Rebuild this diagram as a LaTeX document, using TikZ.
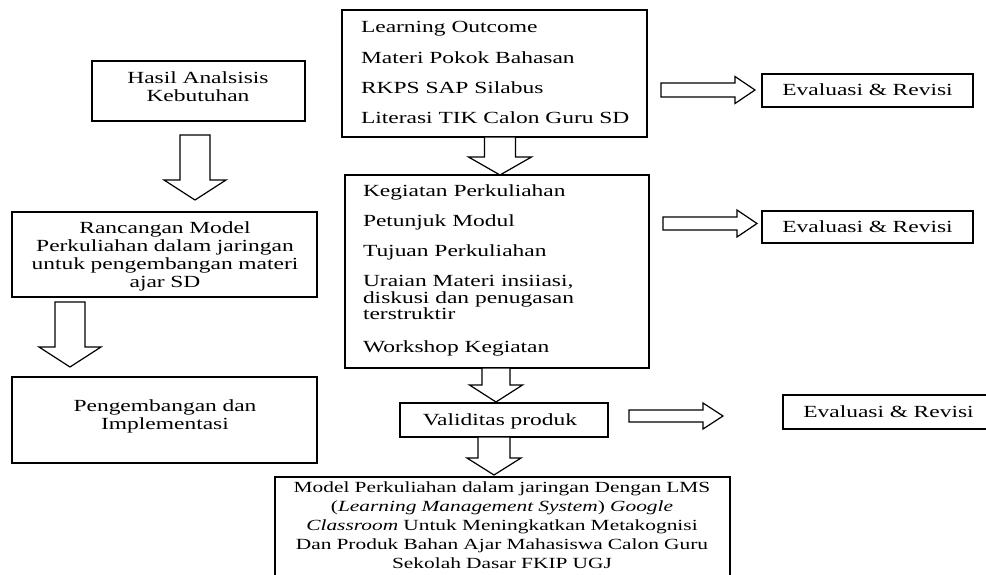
\documentclass[tikz,border=0pt]{standalone}
\usepackage{fontspec}
\setmainfont[FakeStretch=1.38]{Liberation Serif}
\newcommand\bigdownarrow[6]{% cx, shaft half width, top, shaft end, head half width, tip
  \draw[blk] ({#1-#2},#3) -- ({#1-#2},#4) -- ({#1-#5},#4) -- (#1,#6) -- ({#1+#5},#4) -- ({#1+#2},#4) -- ({#1+#2},#3) -- cycle;}
\newcommand\bigrightarrow[6]{% cy, shaft half width, left, shaft end, head half width, tip
  \draw[blk] (#3,{#1-#2}) -- (#4,{#1-#2}) -- (#4,{#1-#5}) -- (#6,#1) -- (#4,{#1+#5}) -- (#4,{#1+#2}) -- (#3,{#1+#2}) -- cycle;}
\begin{document}
\begin{tikzpicture}[x=1pt,y=-1pt,
  box/.style={draw, line width=1.8pt, inner sep=0pt, outer sep=0pt, anchor=north west},
  txt/.style={inner sep=0pt, outer sep=0pt, font=\fontsize{17}{18.2}\selectfont},
  ctxt/.style={txt, text width=320pt, align=center, anchor=base},
  ltxt/.style={txt, anchor=base west},
  btxt/.style={inner sep=0pt, outer sep=0pt, text width=460pt, align=center, anchor=base, font=\fontsize{15.5}{19.1}\selectfont},
  blk/.style={draw, line width=1.2pt, line join=miter, fill=white}]
\useasboundingbox (0,0) rectangle (986,574);
\clip (0,0) rectangle (986,574);

% left column
\node[box, minimum width=213pt, minimum height=60pt] (hasil) at (92,61) {};
\node[ctxt] (hasiltxt) at (198,83) {Hasil Analsisis\\Kebutuhan};
\bigdownarrow{195}{15}{135}{180}{31}{200}

\node[box, minimum width=305pt, minimum height=85pt] (ranc) at (12,212) {};
\node[ctxt] (ranctxt) at (165,233) {Rancangan Model\\Perkuliahan dalam jaringan\\untuk pengembangan materi\\ajar SD};
\bigdownarrow{70}{15}{302}{347}{31}{367}

\node[box, minimum width=305pt, minimum height=86pt] (peng) at (12,377) {};
\node[ctxt] (pengtxt) at (165,411) {Pengembangan dan\\Implementasi};

% middle column
\node[box, minimum width=305pt, minimum height=127pt] (top) at (342,10) {};
\node[ltxt] (t1) at (361,32) {Learning Outcome};
\node[ltxt] (t2) at (361,63) {Materi Pokok Bahasan};
\node[ltxt] (t3) at (361,93) {RKPS SAP Silabus};
\node[ltxt] (t4) at (361,123) {Literasi TIK Calon Guru SD};
\bigdownarrow{500}{15.5}{137}{157}{31.5}{175}

\node[box, minimum width=304pt, minimum height=193pt] (keg) at (345,175) {};
\node[ltxt] (k1) at (363,196) {Kegiatan Perkuliahan};
\node[ltxt] (k2) at (363,226) {Petunjuk Modul};
\node[ltxt] (k3) at (363,256) {Tujuan Perkuliahan};
\node[ltxt] (k4) at (363,286) {Uraian Materi insiiasi,};
\node[ltxt] (k5) at (363,303) {diskusi dan penugasan};
\node[ltxt] (k6) at (363,319) {terstruktir};
\node[ltxt] (k7) at (363,352) {Workshop Kegiatan};
\bigdownarrow{496}{14}{368}{385}{26.5}{402}

\node[box, minimum width=208pt, minimum height=34pt] (valid) at (400,403) {};
\node[ctxt] (validtxt) at (500,425) {Validitas produk};
\bigdownarrow{494}{16}{437}{458}{27}{475}

\node[box, minimum width=455pt, minimum height=130pt] (model) at (275,477) {};
\node[btxt] (modeltxt) at (502,492) {Model Perkuliahan dalam jaringan Dengan LMS\\(\textit{Learning Management System}) \textit{Google}\\\textit{Classroom} Untuk Meningkatkan Metakognisi\\Dan Produk Bahan Ajar Mahasiswa Calon Guru\\Sekolah Dasar FKIP UGJ};

% right column
\bigrightarrow{90}{7}{661}{735}{13.5}{755}
\node[box, minimum width=211pt, minimum height=33pt] (ev1) at (762,74) {};
\node[ctxt] (ev1txt) at (867.5,95) {Evaluasi \& Revisi};

\bigrightarrow{223.5}{6.5}{663}{737}{13.5}{757}
\node[box, minimum width=211pt, minimum height=32pt] (ev2) at (762,211) {};
\node[ctxt] (ev2txt) at (867.5,232) {Evaluasi \& Revisi};

\bigrightarrow{416}{6}{629}{703}{13}{723}
\node[box, minimum width=220pt, minimum height=34pt] (ev3) at (783,395) {};
\node[ctxt] (ev3txt) at (888.5,417) {Evaluasi \& Revisi};
\end{tikzpicture}
\end{document}
